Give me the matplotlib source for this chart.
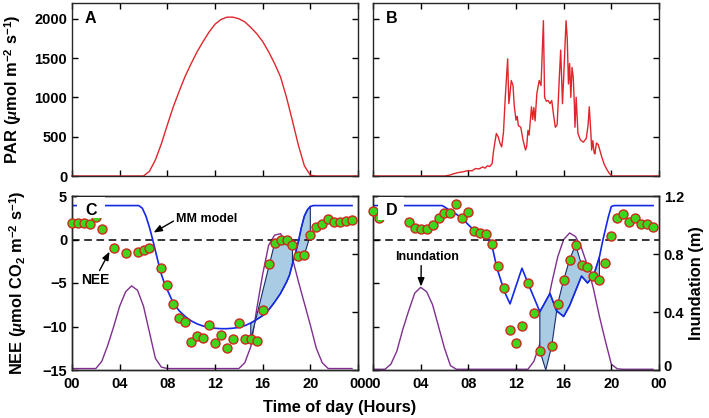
# Diurnal PAR, NEE, Michaelis-Menten model and inundation for two days (A/C and B/D)

import numpy as np
import matplotlib.pyplot as plt
import matplotlib.transforms as mtransforms
from matplotlib.patches import Rectangle

plt.rcParams['font.family'] = 'Liberation Sans'
plt.rcParams['font.weight'] = 'bold'
plt.rcParams['mathtext.fontset'] = 'custom'
plt.rcParams['mathtext.rm'] = 'Liberation Sans:bold'
plt.rcParams['mathtext.bf'] = 'Liberation Sans:bold'
plt.rcParams['mathtext.it'] = 'Liberation Serif:italic'
plt.rcParams['axes.linewidth'] = 1.0
plt.rcParams['axes.edgecolor'] = '#262626'

# ---- data ----
hours = np.arange(0, 24, 0.5)  # half-hourly grid used by the inundation series
xticks = [0, 4, 8, 12, 16, 20, 24]
xticklabels = ['00', '04', '08', '12', '16', '20', '00']

# Panel A: clear day PAR
a_t = [0, 6.0, 6.5, 7.0, 7.5, 8.0, 8.5, 9.0, 9.5, 10.0, 10.5, 11.0, 11.5, 12.0, 12.5, 13.0, 13.5,
       14.0, 14.5, 15.0, 15.5, 16.0, 16.5, 17.0, 17.5, 18.0, 18.5, 19.0, 19.5, 20.0, 20.5, 24.0]
a_par = [0, 0, 60, 205, 410, 650, 880, 1080, 1270, 1430, 1580, 1710, 1830, 1930, 1990, 2020, 2020,
         2000, 1960, 1890, 1810, 1710, 1580, 1430, 1260, 1000, 700, 390, 130, 10, 0, 0]

# Panel B: cloudy day PAR
b_t = [0, 6.0, 6.4, 6.8, 7.2, 7.6, 8.0, 8.3, 8.6, 8.9, 9.2, 9.4, 9.6, 9.8, 10.0, 10.1, 10.25, 10.35,
       10.5, 10.65, 10.8, 10.95, 11.1, 11.3, 11.4, 11.5, 11.6, 11.75, 11.85, 12.0, 12.1, 12.2, 12.4,
       12.6, 12.8, 12.9, 13.0, 13.1, 13.2, 13.3, 13.4, 13.5, 13.6, 13.75, 13.95, 14.1, 14.3, 14.4,
       14.55, 14.7, 14.85, 15.0, 15.15, 15.3, 15.45, 15.55, 15.65, 15.75, 15.9, 16.0, 16.2, 16.3,
       16.4, 16.5, 16.6, 16.7, 16.8, 16.9, 16.95, 17.05, 17.2, 17.4, 17.65, 17.9, 18.05, 18.15, 18.3,
       18.35, 18.45, 18.55, 18.62, 18.75, 18.9, 19.05, 19.2, 19.4, 19.6, 19.8, 20.0, 20.1, 24.0]
b_par = [0, 0, 10, 30, 45, 55, 70, 65, 95, 90, 115, 100, 130, 120, 160, 300, 450, 540,
         500, 420, 370, 560, 1000, 1490, 920, 1050, 1215, 1150, 900, 710, 760, 640, 620,
         450, 330, 380, 580, 520, 700, 880, 720, 870, 700, 1050, 1215, 1150, 1975, 1000,
         950, 960, 920, 960, 780, 620, 650, 960, 1300, 1600, 920, 1250, 1975, 1750,
         1170, 1430, 1000, 1380, 1260, 900, 620, 1000, 540, 460, 430, 480, 650, 880, 500,
         330, 450, 300, 280, 420, 400, 320, 240, 150, 90, 40, 5, 0, 0]

# Panel C: NEE observations, MM model, inundation
c_nee_t = [0, 0.5, 1.0, 1.5, 2.0, 2.5, 3.5, 4.5, 5.5, 6.0, 6.5, 7.5, 8.0, 8.5, 9.0, 9.5, 10.0, 10.5,
           11.0, 11.5, 12.0, 12.5, 13.0, 13.5, 14.0, 14.5, 15.0, 15.5, 16.0, 16.5, 17.0, 17.5, 18.0,
           18.5, 19.0, 19.5, 20.0, 20.5, 21.0, 21.5, 22.0, 22.5, 23.0, 23.5]
c_nee = [1.85, 1.85, 1.85, 1.75, 2.6, 1.2, -1.0, -1.5, -1.4, -1.15, -1.0, -3.3, -5.2, -7.45, -9.0,
         -9.45, -11.75, -11.05, -11.35, -9.85, -11.9, -11.0, -12.5, -11.4, -9.6, -11.4, -11.4,
         -11.65, -8.1, -2.85, -0.45, -0.1, -0.1, -0.6, -1.95, -1.75, 0.5, 1.45, 1.8, 2.3, 2.05,
         2.05, 2.1, 2.25]
c_mod_t = [0, 5.6, 5.9, 6.2, 6.5, 6.75, 7.0, 7.25, 7.5, 7.75, 8.0, 8.5, 9.0, 9.5, 10.0, 10.5, 11.0,
           11.5, 12.0, 12.5, 13.0, 13.5, 14.0, 14.5, 15.0, 15.5, 16.0, 16.5, 17.0, 17.5, 18.0, 18.25,
           18.5, 18.75, 19.0, 19.25, 19.5, 19.75, 20.0, 20.25, 23.5]
c_mod = [3.9, 3.9, 3.6, 2.7, 1.4, 0.1, -1.3, -2.7, -4.0, -5.0, -5.8, -7.3, -8.2, -8.85, -9.35, -9.7,
         -9.95, -10.1, -10.2, -10.25, -10.25, -10.2, -10.1, -9.9, -9.6, -9.2, -8.75, -8.1, -7.2, -6.2,
         -4.9, -4.1, -2.8, -1.6, -0.2, 1.4, 2.7, 3.4, 3.8, 3.9, 3.9]
c_inund = [0.01, 0.01, 0.01, 0.01, 0.01, 0.06, 0.17, 0.30, 0.44, 0.54, 0.58, 0.55, 0.44, 0.26,
           0.08, 0.02, 0.01, 0.01, 0.01, 0.01, 0.01, 0.01, 0.01, 0.01, 0.01, 0.01, 0.01, 0.01,
           0.01, 0.05, 0.16, 0.42, 0.66, 0.86, 0.93, 0.94, 0.88, 0.77, 0.61, 0.46, 0.31, 0.15,
           0.05, 0.01, 0.01, 0.01, 0.01, 0.01]
# shaded gaps between observed NEE and model (NEE side)
c_sh1_t = [15.0, 17.0, 17.5, 18.0, 18.5]
c_sh1_nee = [-11.5, -0.45, -0.1, -0.1, -0.6]
c_sh2_t = [18.75, 19.0, 19.5, 20.0]
c_sh2_nee = [-1.6, -1.95, -1.75, 0.5]

# Panel D
d_nee_t = [0, 0.5, 3.0, 3.5, 4.0, 4.5, 5.0, 5.5, 6.0, 6.5, 7.0, 7.5, 8.0, 8.5, 9.0, 9.5, 10.0, 10.5,
           11.0, 11.5, 12.0, 12.5, 13.0, 13.5, 14.0, 15.0, 15.5, 16.0, 16.5, 17.0, 17.5, 18.0, 18.5,
           19.0, 19.5, 20.0, 20.5, 21.0, 21.5, 22.0, 22.5, 23.0, 23.5]
d_nee = [3.3, 2.45, 2.0, 1.35, 1.15, 1.15, 1.65, 2.5, 3.1, 3.1, 4.1, 2.45, 3.2, 1.0, 0.8, 0.6, -0.55,
         -3.05, -5.6, -10.4, -11.9, -9.9, -5.0, -8.5, -12.8, -12.2, -7.4, -4.65, -2.3, -0.6, -2.9,
         -3.15, -4.15, -4.6, -2.65, 0.35, 2.45, 2.95, 2.0, 2.45, 1.75, 1.75, 1.4]
d_mod_t = [0, 5.8, 6.0, 6.5, 7.0, 7.5, 8.0, 8.3, 8.5, 9.0, 9.5, 10.0, 10.4, 10.8, 11.1, 11.5, 12.5,
           13.0, 14.0, 14.85, 15.4, 16.0, 16.5, 17.5, 18.0, 18.5, 19.0, 19.3, 19.75, 20.0, 20.25, 23.5]
d_mod = [3.9, 3.9, 3.75, 3.3, 2.9, 2.4, 1.7, 1.3, 1.15, 0.9, 0.4, -0.8, -3.3, -5.0, -6.2, -7.4, -3.3,
         -5.0, -8.3, -6.2, -8.2, -8.85, -7.6, -4.2, -5.0, -4.2, -2.0, 0.0, 2.6, 3.8, 3.9, 3.9]
d_inund = [0.005, 0.005, 0.005, 0.04, 0.13, 0.28, 0.41, 0.53, 0.57, 0.54, 0.45, 0.30, 0.15, 0.03,
           0.005, 0.005, 0.005, 0.005, 0.005, 0.005, 0.005, 0.005, 0.005, 0.005, 0.005, 0.005,
           0.005, 0.06, 0.18, 0.40, 0.60, 0.78, 0.90, 0.945, 0.92, 0.84, 0.72, 0.56, 0.37, 0.20,
           0.04, 0.008, 0.005, 0.005, 0.005, 0.005, 0.005, 0.005]
d_sh_t = [14.0, 14.5, 15.0, 15.5, 16.0, 16.5, 17.0, 17.5, 18.0, 18.5, 19.0]
d_sh_nee = [-12.8, -15.0, -12.2, -7.4, -4.65, -2.3, -0.6, -2.9, -3.15, -4.15, -4.6]

# ---- styles ----
RED = '#e0262b'
BLUE = '#1428e6'
PURPLE = '#7e2f8e'
GREEN = '#3fd51c'
EDGE = '#cc2a1e'
SHADE = '#a9cbe3'
NAVY = '#1a2a6c'
TICKSIZE = 10.5

W, H = 709, 418
fig = plt.figure(figsize=(W / 100, H / 100), dpi=100)


def pos(l, t, r, b):
    return [l / W, 1 - b / H, (r - l) / W, (b - t) / H]


axA = fig.add_axes(pos(72, 3, 358, 176))
axB = fig.add_axes(pos(373, 3, 659, 176))
axC = fig.add_axes(pos(72, 196, 358, 370))
axD = fig.add_axes(pos(373, 196, 659, 370))

# PAR panels
for ax, t, par, lab in [(axA, a_t, a_par, 'A'), (axB, b_t, b_par, 'B')]:
    ax.plot(t, par, color=RED, lw=1.0, clip_on=False)
    ax.set_xlim(0, 24)
    ax.set_ylim(0, 2200)
    ax.set_xticks(xticks)
    ax.set_yticks([0, 500, 1000, 1500, 2000])
    ax.tick_params(direction='in', top=True, right=True, length=4, width=1, labelsize=TICKSIZE,
                   labelbottom=False)
    ax.text(1.55, 2000, lab, fontsize=11.5, fontweight='bold', ha='center', va='center')
axB.tick_params(labelleft=False)
axA.set_ylabel(r'PAR ($\mu$mol m$^{-2}$ s$^{-1}$)', fontsize=11.8, fontweight='bold')
axA.yaxis.set_label_coords(-0.167, 0.5)


def nee_panel(ax, nee_t, nee, mod_t, mod, inund, shades, lab, rect):
    ax2 = ax.twinx()
    ax.set_zorder(ax2.get_zorder() + 1)
    ax.patch.set_visible(False)
    ax2.plot(hours, inund, color=PURPLE, lw=1.0)
    ax2.set_ylim(0, 1.2)
    ax2.set_yticks([0, 0.4, 0.8, 1.2])
    ax2.set_yticklabels(['0', '0.4', '0.8', '1.2'])
    ax2.tick_params(direction='in', length=4, width=1, labelsize=TICKSIZE)

    mod_t = np.array(mod_t)
    mod = np.array(mod)
    for st, sv in shades:
        m = (mod_t >= st[0]) & (mod_t <= st[-1])
        xs = np.r_[st, mod_t[m][::-1]]
        ys = np.r_[sv, mod[m][::-1]]
        ax.fill(xs, ys, facecolor=SHADE, edgecolor=NAVY, lw=0.8, zorder=1.5)
    ax.axhline(0, color='k', ls='--', lw=1.1, dashes=(5, 3), zorder=1.8)
    ax.plot(mod_t, mod, color=BLUE, lw=1.2, zorder=2)
    ax.plot(nee_t, nee, 'o', ms=6.5, mfc=GREEN, mec=EDGE, mew=1.0, clip_on=False, zorder=3)

    ax.add_patch(Rectangle((rect[0], rect[1]), rect[2], 4.93 - rect[1], facecolor='white',
                           edgecolor='none', zorder=4))
    ax.text(1.6, 3.3, lab, fontsize=11.5, fontweight='bold', ha='center', va='center', zorder=4.5)

    ax.set_xlim(0, 24)
    ax.set_ylim(-15, 5)
    ax.set_xticks(xticks)
    ax.set_xticklabels(xticklabels)
    ax.set_yticks([-15, -10, -5, 0, 5])
    ax.tick_params(direction='in', length=4, width=1, labelsize=TICKSIZE)
    return ax2


axC2 = nee_panel(axC, c_nee_t, c_nee, c_mod_t, c_mod, c_inund,
                 [(c_sh1_t, c_sh1_nee), (c_sh2_t, c_sh2_nee)], 'C', (0.4, 2.45, 2.4))
axD2 = nee_panel(axD, d_nee_t, d_nee, d_mod_t, d_mod, d_inund,
                 [(d_sh_t, d_sh_nee)], 'D', (0.4, 2.25, 2.2))
axC2.tick_params(labelright=False)
axD.tick_params(labelleft=False)
axC.tick_params(axis='x', pad=5)
axD.tick_params(axis='x', pad=5)

# nudge the bottom right-axis label up a little so it clears the "00" tick label
lift = mtransforms.ScaledTranslation(0, 3 / 72, fig.dpi_scale_trans)
lbl0 = axD2.get_yticklabels()[0]
lbl0.set_transform(lbl0.get_transform() + lift)

axC.set_ylabel(r'NEE ($\mu$mol CO$_2$ m$^{-2}$ s$^{-1}$)', fontsize=11.8, fontweight='bold')
axC.yaxis.set_label_coords(-0.15, 0.5)
axD2.set_ylabel('Inundation (m)', fontsize=11.8, fontweight='bold')
axD2.yaxis.set_label_coords(1.105, 0.5)

# annotations
arrow = dict(arrowstyle='-|>,head_length=0.5,head_width=0.2', color='k', lw=1.0,
             mutation_scale=10, shrinkA=0, shrinkB=0)
axC.annotate('MM model', xy=(6.85, 0.8), xytext=(8.75, 2.3), fontsize=9, fontweight='bold',
             ha='left', va='center', zorder=5, arrowprops=dict(arrow, relpos=(0, 0.5)))
axC.annotate('NEE', xy=(3.15, -1.4), xytext=(1.95, -4.7), fontsize=10, fontweight='bold',
             ha='center', va='center', zorder=5, arrowprops=dict(arrow, relpos=(0.6, 1.0)))
axD.annotate('Inundation', xy=(4.03, -5.4), xytext=(4.5, -2.0), fontsize=9, fontweight='bold',
             ha='center', va='center', zorder=5, arrowprops=dict(arrow, relpos=(0.415, 0.0)))

fig.text(340 / W, 1 - 412 / H, 'Time of day (Hours)', fontsize=11.8, fontweight='bold',
         ha='center', va='baseline')

fig.savefig('out.png', dpi=100)
